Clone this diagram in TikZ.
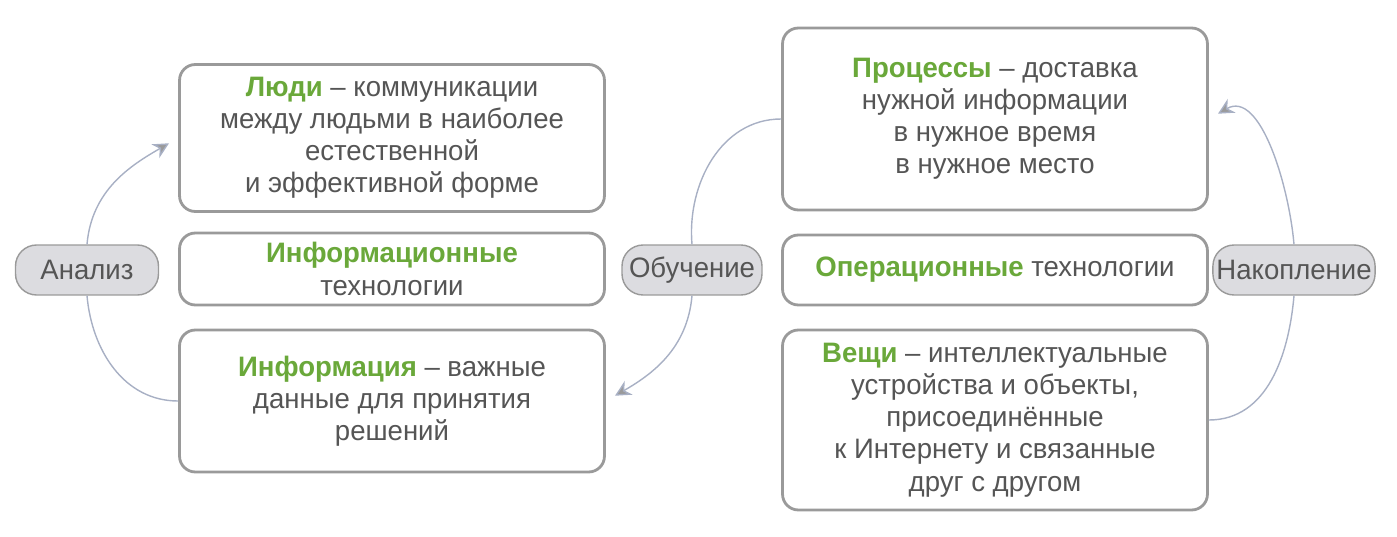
\documentclass[tikz,border=0pt]{standalone}
\usepackage{fontspec}
\setmainfont{Liberation Sans}[FakeStretch=0.98]
\usetikzlibrary{arrows.meta}
\definecolor{txtgray}{HTML}{555555}
\definecolor{hlgreen}{HTML}{6AA83A}
\definecolor{boxgray}{HTML}{9A9A9A}
\definecolor{pillfill}{HTML}{DCDCE0}
\definecolor{arcblue}{HTML}{A8B0C4}
\newcommand{\hl}[1]{\textbf{\textcolor{hlgreen}{#1}}}
\begin{document}
\begin{tikzpicture}[x=0.02cm, y=-0.02cm,
  every node/.style={font=\fontsize{16}{18.3}\selectfont, text=txtgray, align=center},
  infobox/.style={draw=boxgray, line width=1.6pt, rounded corners=9pt, minimum width=8.5cm},
  pill/.style={draw=boxgray, line width=0.8pt, fill=pillfill, rounded corners=12pt, minimum height=1cm, inner xsep=2pt},
  arc/.style={draw=arcblue, line width=0.8pt},
  arcarrow/.style={arc, -{Stealth[length=9pt, width=9pt, fill=boxgray]}, shorten >=6pt}
]
\useasboundingbox (0,0) rectangle (1397,537);

% left column
\node[infobox, minimum height=2.94cm] (ludi) at (392,138) {\hl{Люди} – коммуникации\\между людьми в наиболее\\естественной\\и эффективной форме};
\node[infobox, minimum height=1.44cm] (infotech) at (392,269) {\hl{Информационные}\\технологии};
\node[infobox, minimum height=2.84cm] (info) at (392,401) {\hl{Информация} – важные\\данные для принятия\\решений};

% right column
\node[infobox, minimum height=3.64cm] (proc) at (995,119) {\hl{Процессы} – доставка\\нужной информации\\в нужное время\\в нужное место};
\node[infobox, minimum height=1.4cm] (optech) at (995,270) {\hl{Операционные} технологии};
\node[infobox, minimum height=3.6cm] (veshi) at (995,420) {\hl{Вещи} – интеллектуальные\\устройства и объекты,\\присоединённые\\к Интернету и связанные\\друг с другом};

% cycle labels
\node[pill, minimum width=2.86cm] (analiz) at (87,270) {Анализ};
\node[pill, minimum width=2.8cm] (obuch) at (692,270) {Обучение};
\node[pill, minimum width=3.04cm] (nakop) at (1294,270) {Накопление};

% arcs
\draw[arc] (info.west) to[out=180, in=-85] (analiz.south);
\draw[arcarrow] (analiz.north) to[out=85, in=-150] (ludi.west);
\draw[arc] (proc.west) to[out=180, in=95] (obuch.north);
\draw[arcarrow] (obuch.south) to[out=-95, in=30] (info.east);
\draw[arc] (veshi.east) to[out=0, in=-95] (nakop.south);
\draw[arcarrow] (nakop.north) to[out=95, in=30] (proc.east);
\end{tikzpicture}
\end{document}
